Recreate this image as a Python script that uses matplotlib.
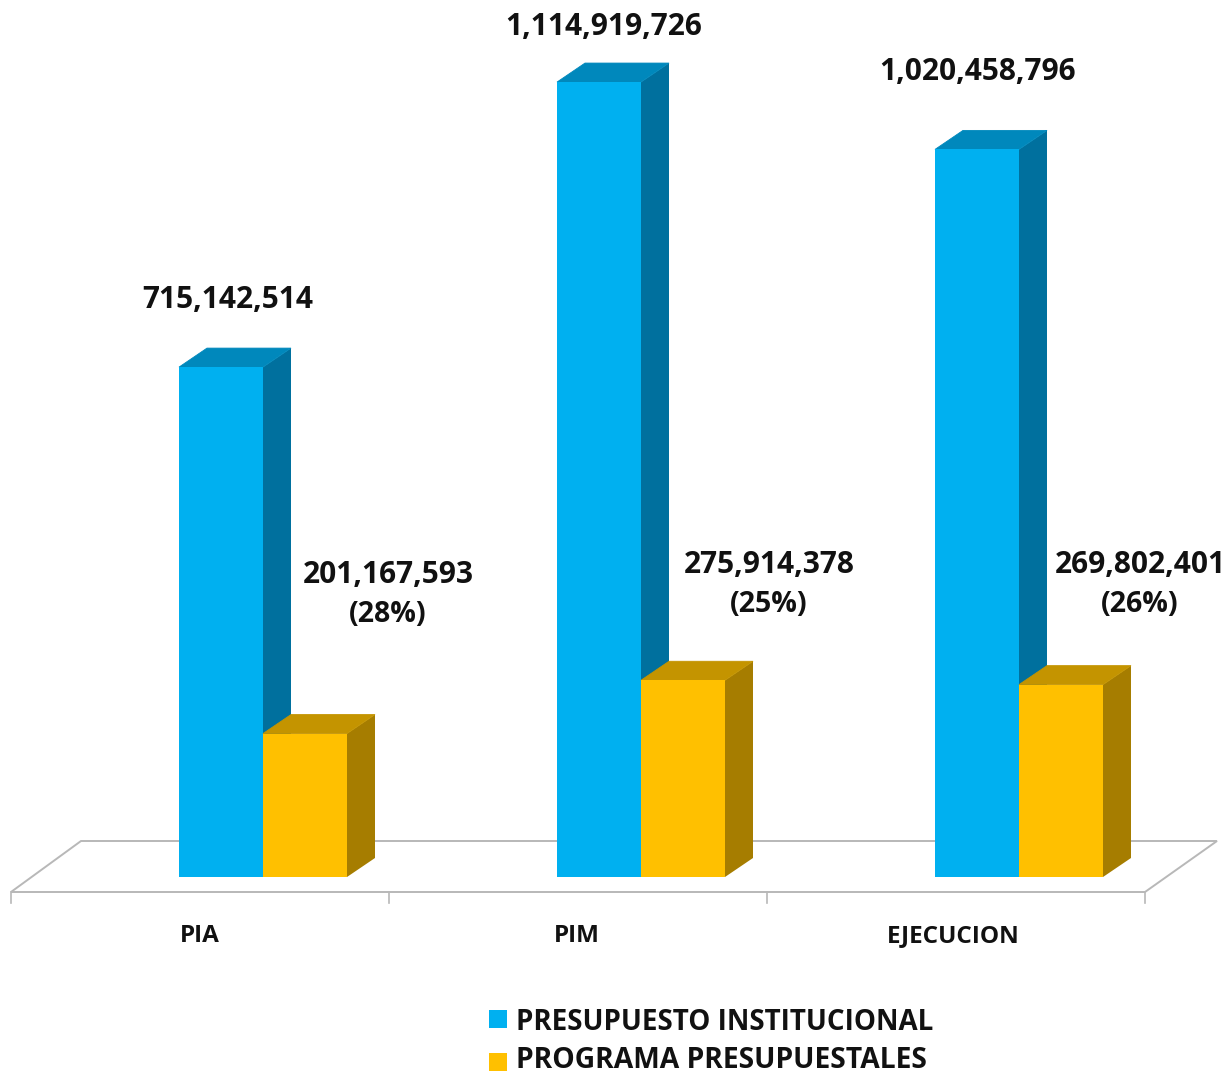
import matplotlib
matplotlib.use("Agg")
import matplotlib.pyplot as plt
from matplotlib.patches import Polygon, Rectangle

categories = ["PIA", "PIM", "EJECUCION"]
institucional = [715142514, 1114919726, 1020458796]
programa = [201167593, 275914378, 269802401]
porcentajes = ["28%", "25%", "26%"]
series_names = ["PRESUPUESTO INSTITUCIONAL", "PROGRAMA PRESUPUESTALES"]

W, H = 1230, 1075
PX_X = 378.0            # pixels per category
PX_Y = 713.0 / 1e9      # pixels per unit of value
X0, Y0 = 263.0, 877.0   # pixel position of category 0 / value 0

BLUE, BLUE_TOP, BLUE_SIDE = "#00B0F0", "#0088BC", "#00709E"
GOLD, GOLD_TOP, GOLD_SIDE = "#FFC000", "#C49400", "#A67D00"
FONT = "Open Sans"
TXT = "#111111"

bar_w = 84 / PX_X
dx, dy = 28 / PX_X, 19 / PX_Y

fig = plt.figure(figsize=(W / 100, H / 100), dpi=100, facecolor="white")
ax = fig.add_axes([0, 0, 1, 1])
ax.set_xlim(-X0 / PX_X, (W - X0) / PX_X)
ax.set_ylim(-(H - Y0) / PX_Y, Y0 / PX_Y)
ax.axis("off")


def px(x_pixels):
    return (x_pixels - X0) / PX_X


def py(y_pixels):
    return (Y0 - y_pixels) / PX_Y


# floor
floor = Polygon([(px(11), py(892)), (px(81), py(841)), (px(1217), py(841)), (px(1145), py(892))],
                closed=True, facecolor="white", edgecolor="#B8B8B8", lw=1.4, zorder=1)
ax.add_patch(floor)
for i in range(len(categories) + 1):
    xt = px(11) + i * (px(1145) - px(11)) / 3
    ax.plot([xt, xt], [py(892), py(903)], color="#B8B8B8", lw=1.2, zorder=1)


def bar3d(x, v, front, top, side, z):
    ax.add_patch(Polygon([(x + bar_w, 0), (x + bar_w + dx, dy), (x + bar_w + dx, v + dy), (x + bar_w, v)],
                         closed=True, facecolor=side, edgecolor="none", zorder=z))
    ax.add_patch(Polygon([(x, v), (x + bar_w, v), (x + bar_w + dx, v + dy), (x + dx, v + dy)],
                         closed=True, facecolor=top, edgecolor=top, lw=0.6, zorder=z + 0.1))
    ax.add_patch(Rectangle((x, 0), bar_w, v, facecolor=front, edgecolor="none", zorder=z + 0.2))


for i in range(len(categories)):
    bar3d(i - bar_w, institucional[i], BLUE, BLUE_TOP, BLUE_SIDE, 2)
    bar3d(i, programa[i], GOLD, GOLD_TOP, GOLD_SIDE, 3)

cat_x = [200, 577, 953]
for i in range(len(categories)):
    ax.text(px(cat_x[i]), py(936), categories[i], ha="center", va="center", family=FONT,
            fontweight="bold", fontsize=17.5, color=TXT, zorder=5)

# value labels (pixel anchors from the reference)
top_pos = [(228, 300), (604, 27), (978, 72)]
low_pos = [(388, 575), (769, 565), (1140, 565)]
for i in range(len(categories)):
    ax.text(px(top_pos[i][0]), py(top_pos[i][1]), f"{institucional[i]:,}", ha="center", va="center",
            family=FONT, fontweight="bold", fontsize=21.5, color=TXT, zorder=5)
    ax.text(px(low_pos[i][0]), py(low_pos[i][1]), f"{programa[i]:,}", ha="center", va="center",
            family=FONT, fontweight="bold", fontsize=21.5, color=TXT, zorder=5)
    ax.text(px(low_pos[i][0]), py(low_pos[i][1] + 39), f"({porcentajes[i]})", ha="center", va="center",
            family=FONT, fontweight="bold", fontsize=20.5, color=TXT, zorder=5)

# legend
for name, col, yp, ys, fs in zip(series_names, [BLUE, GOLD], [1022, 1060], [1028, 1071], [20, 20.3]):
    ax.add_patch(Rectangle((px(489), py(ys)), 18 / PX_X, 18 / PX_Y, facecolor=col, edgecolor="none", zorder=5))
    ax.text(px(516), py(yp), name, ha="left", va="center", family=FONT, fontweight="bold",
            fontsize=fs, color=TXT, zorder=5)

fig.savefig("out.png", dpi=100, facecolor="white")
